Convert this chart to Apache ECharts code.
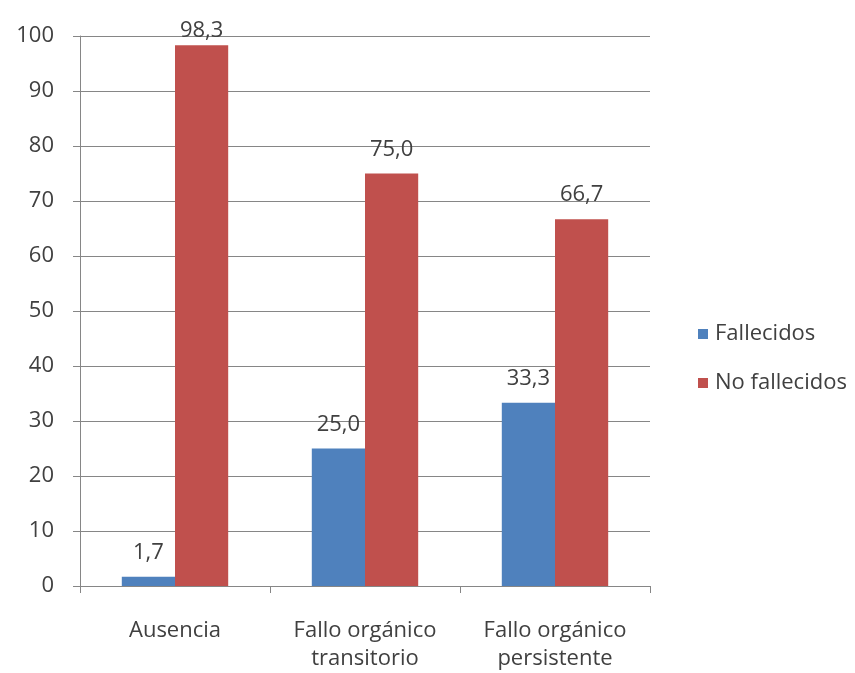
<!DOCTYPE html>
<html>
<head>
<meta charset="utf-8">
<script src="https://cdn.jsdelivr.net/npm/echarts@6/dist/echarts.min.js"></script>
<style>
  html, body { margin: 0; padding: 0; background: #fff; }
  #chart { width: 855px; height: 673px; }
</style>
</head>
<body>
<div id="chart"></div>
<script>
// Outcome by organ failure group (percent)
const categories = ['Ausencia', 'Fallo orgánico\ntransitorio', 'Fallo orgánico\npersistente'];
const fallecidos = [1.7, 25.0, 33.3];
const noFallecidos = [98.3, 75.0, 66.7];
const yTicks = { min: 0, max: 100, interval: 10 };

const FONT = '"Open Sans", Lato, sans-serif';
const FS = 22;
const TEXT = '#404040';
const LINE = '#868686';
const LABEL_GAP = 13;

const fmt = p => p.value.toFixed(1).replace('.', ',');

// Labels near the top of the plot are tucked closer to the bar so they stay inside the canvas
const withLabels = values => values.map(v => (
  v > 95 ? { value: v, label: { distance: 4 } } : { value: v }
));

const labelStyle = {
  show: true, position: 'top', distance: LABEL_GAP, formatter: fmt,
  fontFamily: FONT, fontSize: FS, color: TEXT
};

const chart = echarts.init(document.getElementById('chart'));
chart.setOption({
  animation: false,
  backgroundColor: '#fff',
  grid: { left: 80, right: 205, top: 36, bottom: 86, containLabel: false },
  legend: {
    orient: 'vertical',
    left: 693,
    top: 318,
    itemWidth: 10,
    itemHeight: 10,
    itemGap: 27,
    icon: 'rect',
    textStyle: { fontFamily: FONT, fontSize: FS, lineHeight: 22, color: TEXT, padding: [0, 0, 0, 2] },
    data: ['Fallecidos', 'No fallecidos']
  },
  xAxis: {
    type: 'category',
    data: categories,
    axisLine: { lineStyle: { color: LINE, width: 1 } },
    axisTick: { show: true, length: 7, alignWithLabel: false, lineStyle: { color: LINE } },
    axisLabel: { fontFamily: FONT, fontSize: FS, color: TEXT, margin: 31, lineHeight: 28 }
  },
  yAxis: {
    type: 'value',
    min: yTicks.min,
    max: yTicks.max,
    interval: yTicks.interval,
    axisLine: { show: true, lineStyle: { color: LINE, width: 1 } },
    axisTick: { show: true, length: 7, lineStyle: { color: LINE } },
    axisLabel: { fontFamily: FONT, fontSize: FS, color: TEXT, margin: 26 },
    splitLine: { lineStyle: { color: LINE, width: 1 } }
  },
  series: [
    {
      name: 'Fallecidos',
      type: 'bar',
      data: withLabels(fallecidos),
      barGap: '0%',
      barCategoryGap: '44%',
      itemStyle: { color: '#4F81BD' },
      label: labelStyle
    },
    {
      name: 'No fallecidos',
      type: 'bar',
      data: withLabels(noFallecidos),
      barGap: '0%',
      barCategoryGap: '44%',
      itemStyle: { color: '#C0504D' },
      label: labelStyle
    }
  ]
});
</script>
</body>
</html>
